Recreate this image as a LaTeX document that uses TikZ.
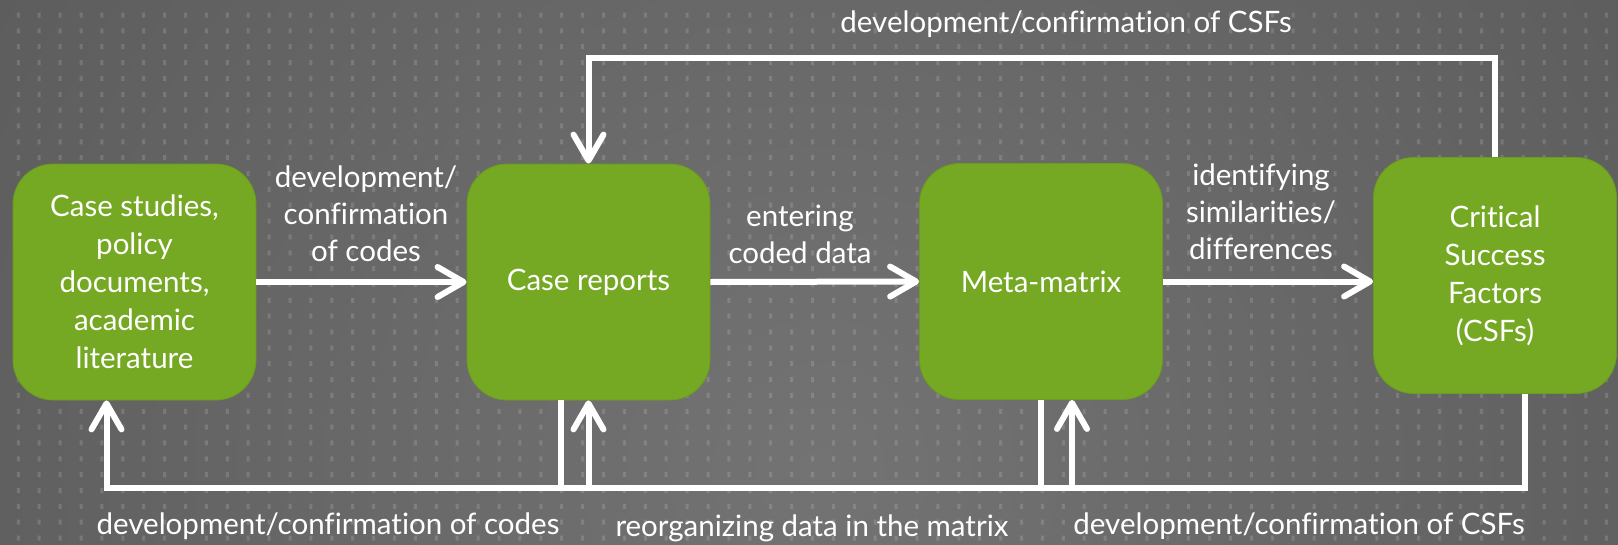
\documentclass[tikz,border=0pt]{standalone}
\usepackage{fontspec}
\setmainfont{Lato}[Ligatures={NoCommon}]
\usetikzlibrary{arrows.meta,calc}
\definecolor{boxgreen}{HTML}{75A823}
\definecolor{bginner}{HTML}{737373}
\definecolor{bgouter}{HTML}{474747}
\begin{document}
\begin{tikzpicture}[x=1pt,y=-1pt,
  box/.style={draw=boxgreen!92!black, line width=0.8pt, fill=boxgreen, rounded corners=40pt,
    minimum width=243pt, minimum height=236pt, inner sep=0pt, text=white,
    font=\fontsize{29.5}{38}\selectfont, align=center},
  lbl/.style={text=white, font=\fontsize{29.5}{37}\selectfont, align=center, inner sep=0pt},
  arr/.style={draw=white, line width=6pt, -{Straight Barb[length=26pt,width=30pt,round]}}]
\useasboundingbox (0,0) rectangle (1618,544);
\begin{scope}
  \clip (0,0) rectangle (1618,544);
  \shade[inner color=bginner, outer color=bgouter] (820,470) circle (1900);
\end{scope}
\fill[white, fill opacity=0.14]
  foreach \i in {0,...,77} { foreach \j in {0,...,34} {
    ({16.8+20.9*\i},{12.5+15.85*\j}) rectangle ++(3,5) } };

\node[box] (b1) at (134.5,282) {Case studies,\\policy\\documents,\\academic\\literature};
\node[box] (b2) at (588.5,282) {Case reports};
\node[box] (b3) at (1041,281.5) {Meta-matrix};
\node[box] (b4) at (1495,275.5) {Critical\\Success\\Factors\\(CSFs)};

\node[lbl] (t1) at (366,214) {development/\\confirmation\\of codes};
\node[lbl] (t2) at (800,234) {entering\\coded data};
\node[lbl] (t3) at (1261,212) {identifying\\similarities/\\differences};
\node[lbl] (t4) at (1066,24) {development/confirmation of CSFs};
\node[lbl] (t5) at (328,526) {development/confirmation of codes};
\node[lbl] (t6) at (812,528) {reorganizing data in the matrix};
\node[lbl] (t7) at (1299,526) {development/confirmation of CSFs};

\coordinate (top) at (1000,58);
\coordinate (bot) at (800,488);

\draw[arr] (b1.east) -- (b2.west);
\draw[arr] (b2.east) -- (b3.west);
\draw[arr] (b3.east) -- (b3.east -| b4.west);
\draw[arr] (b4.north) |- (top) -| (b2.north);
\draw[arr] ([xshift=-28pt]b2.south) |- (bot) -| ([xshift=-28pt]b1.south);
\draw[arr] (b3.south) |- (bot) -| (b2.south);
\draw[arr] ([xshift=30pt]b4.south) |- (bot) -| ([xshift=31pt]b3.south);
\end{tikzpicture}
\end{document}
